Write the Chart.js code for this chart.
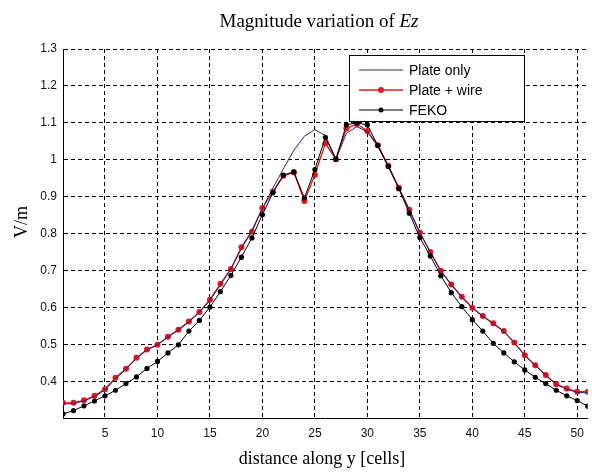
<!DOCTYPE html>
<html>
<head>
<meta charset="utf-8">
<script src="https://cdn.jsdelivr.net/npm/chart.js@4"></script>
<style>
  body { margin: 0; background: #fff; }
</style>
</head>
<body>
<canvas id="chart" width="592" height="472"></canvas>
<script>
// distance along y, in cells
var cells = [];
for (var i = 1; i <= 51; i++) cells.push(i);

var plateOnly = [0.340, 0.341, 0.348, 0.360, 0.378, 0.408, 0.434, 0.463, 0.486, 0.500,
  0.521, 0.540, 0.562, 0.588, 0.620, 0.662, 0.705, 0.760, 0.810, 0.868,
  0.924, 0.976, 1.026, 1.064, 1.082, 1.066, 1.002, 1.072, 1.090, 1.076,
  1.036, 0.982, 0.924, 0.864, 0.803, 0.750, 0.700, 0.662, 0.629, 0.599,
  0.577, 0.557, 0.536, 0.505, 0.471, 0.444, 0.417, 0.393, 0.380, 0.371, 0.370];

var plateWire = [0.343, 0.343, 0.350, 0.362, 0.380, 0.411, 0.435, 0.465, 0.487, 0.500,
  0.522, 0.541, 0.563, 0.589, 0.622, 0.665, 0.705, 0.764, 0.806, 0.870,
  0.914, 0.957, 0.966, 0.889, 0.960, 1.045, 1.002, 1.085, 1.097, 1.078,
  1.040, 0.984, 0.925, 0.865, 0.804, 0.751, 0.700, 0.663, 0.630, 0.600,
  0.578, 0.558, 0.537, 0.506, 0.472, 0.445, 0.418, 0.393, 0.382, 0.373, 0.373];

var feko = [0.313, 0.322, 0.335, 0.348, 0.362, 0.377, 0.395, 0.413, 0.436, 0.455,
  0.478, 0.500, 0.537, 0.566, 0.602, 0.644, 0.688, 0.737, 0.789, 0.852,
  0.911, 0.959, 0.968, 0.897, 0.974, 1.061, 1.002, 1.095, 1.100, 1.095,
  1.039, 0.982, 0.922, 0.856, 0.790, 0.740, 0.687, 0.641, 0.603, 0.568,
  0.537, 0.504, 0.478, 0.454, 0.432, 0.412, 0.395, 0.377, 0.362, 0.349, 0.334];

var xTicks = [5, 10, 15, 20, 25, 30, 35, 40, 45, 50];
var yTicks = [0.4, 0.5, 0.6, 0.7, 0.8, 0.9, 1.0, 1.1, 1.2, 1.3];

var titleText = "Magnitude variation of ";
var titleItalic = "Ez";
var xTitle = "distance along y [cells]";
var yTitle = "V/m";
var legendNames = ["Plate only", "Plate + wire", "FEKO"];

var navy = "#24247a", red = "#e01818", black = "#000000";

function pts(arr) {
  return arr.map(function (v, i) { return {x: cells[i], y: v}; });
}

// titles and the boxed legend, drawn by hand
var decor = {
  id: "decor",
  afterDraw: function (chart) {
    var ctx = chart.ctx;
    ctx.save();
    ctx.fillStyle = "#000";
    ctx.textBaseline = "middle";

    // main title with italic Ez
    ctx.font = "19px 'Liberation Serif', serif";
    var w1 = ctx.measureText(titleText).width;
    ctx.font = "italic 19px 'Liberation Serif', serif";
    var w2 = ctx.measureText(titleItalic).width;
    var tx = 319 - (w1 + w2) / 2;
    ctx.font = "19px 'Liberation Serif', serif";
    ctx.textAlign = "left";
    ctx.fillText(titleText, tx, 22);
    ctx.font = "italic 19px 'Liberation Serif', serif";
    ctx.fillText(titleItalic, tx + w1, 22);

    // axis titles
    ctx.font = "18px 'Liberation Serif', serif";
    ctx.textAlign = "center";
    ctx.fillText(xTitle, 322, 459);
    ctx.translate(22, 222);
    ctx.rotate(-Math.PI / 2);
    ctx.fillText(yTitle, 0, 0);
    ctx.restore();

    // legend
    ctx.save();
    var lx = 349.5, ly = 55.5, lw = 175, lh = 66;
    ctx.fillStyle = "#fff";
    ctx.fillRect(lx, ly, lw, lh);
    ctx.strokeStyle = "#000";
    ctx.lineWidth = 1;
    ctx.strokeRect(lx, ly, lw, lh);
    var cols = [navy, red, black];
    var dots = [0, 3, 2.5];
    ctx.font = "14px 'Liberation Sans', Arial, sans-serif";
    ctx.textAlign = "left";
    ctx.textBaseline = "middle";
    for (var k = 0; k < 3; k++) {
      var yy = 70 + k * 20;
      ctx.strokeStyle = cols[k];
      ctx.lineWidth = k === 1 ? 1.3 : 1;
      ctx.beginPath();
      ctx.moveTo(359, yy);
      ctx.lineTo(403, yy);
      ctx.stroke();
      if (dots[k]) {
        ctx.fillStyle = cols[k];
        ctx.beginPath();
        ctx.arc(381, yy, dots[k], 0, Math.PI * 2);
        ctx.fill();
      }
      ctx.fillStyle = "#000";
      ctx.fillText(legendNames[k], 409, yy + 1);
    }
    ctx.restore();
  }
};

var chart = new Chart("chart", {
  type: "line",
  data: {
    datasets: [
      {
        label: legendNames[2],
        data: pts(feko),
        borderColor: black,
        backgroundColor: black,
        borderWidth: 1,
        pointRadius: 2.6,
        pointBorderWidth: 0,
        order: 0
      },
      {
        label: legendNames[0],
        data: pts(plateOnly),
        borderColor: navy,
        borderWidth: 1,
        pointRadius: 0,
        order: 1
      },
      {
        label: legendNames[1],
        data: pts(plateWire),
        borderColor: red,
        backgroundColor: red,
        borderWidth: 1.3,
        pointRadius: 3,
        pointBorderWidth: 0,
        order: 2
      }
    ]
  },
  options: {
    responsive: false,
    animation: false,
    devicePixelRatio: 1,
    layout: { padding: { top: 49, right: 1, left: 0, bottom: 0 } },
    plugins: {
      legend: { display: false },
      tooltip: { enabled: false }
    },
    scales: {
      x: {
        type: "linear",
        min: 1,
        max: 51,
        afterBuildTicks: function (s) { s.ticks = xTicks.map(function (v) { return {value: v}; }); },
        afterFit: function (s) { s.height = 54; },
        grid: { color: "#000", lineWidth: 1, drawTicks: false },
        border: { display: true, color: "#000", width: 1, dash: [4, 3] },
        ticks: {
          padding: 8,
          color: "#111",
          font: { family: "'Liberation Sans', Arial, sans-serif", size: 12 },
          maxRotation: 0
        }
      },
      y: {
        min: 0.302,
        max: 1.3,
        afterBuildTicks: function (s) { s.ticks = yTicks.map(function (v) { return {value: v}; }); },
        afterFit: function (s) { s.width = 63; },
        grid: { color: "#000", lineWidth: 1, drawTicks: false },
        border: { display: true, color: "#000", width: 1, dash: [4, 3] },
        ticks: {
          padding: 6,
          color: "#111",
          font: { family: "'Liberation Sans', Arial, sans-serif", size: 12 },
          callback: function (v) { return String(+v.toFixed(1)); }
        }
      }
    }
  },
  plugins: [decor]
});
</script>
</body>
</html>
